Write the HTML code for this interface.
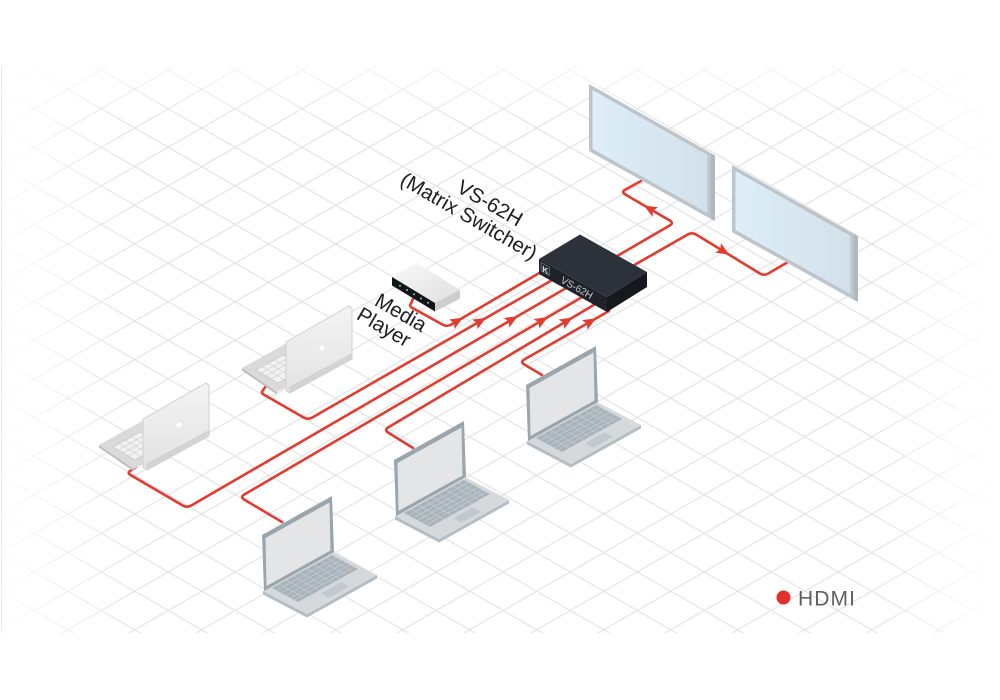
<!DOCTYPE html>
<html>
<head>
<meta charset="utf-8">
<style>
  html,body{margin:0;padding:0;background:#fff;}
  svg{display:block;}
  .lbl{font-family:"Liberation Sans",sans-serif;fill:#1e1e1e;font-size:20.5px;}
</style>
</head>
<body>
<svg width="1000" height="700" viewBox="0 0 1000 700" xmlns="http://www.w3.org/2000/svg">
  <defs>
    <pattern id="grid" patternUnits="userSpaceOnUse" x="0.7" y="12.2" width="67" height="38.6">
      <path d="M0,0L67,38.6M0,-38.6L67,0M0,38.6L67,77.2M0,38.6L67,0M0,0L67,-38.6M0,77.2L67,38.6" stroke="#dfdfdf" stroke-width="1" fill="none"/>
    </pattern>
    <linearGradient id="gh" gradientUnits="userSpaceOnUse" x1="0" y1="0" x2="1000" y2="0">
      <stop offset="0" stop-color="#1a1a1a"/>
      <stop offset="0.13" stop-color="#ffffff"/>
      <stop offset="0.88" stop-color="#ffffff"/>
      <stop offset="1" stop-color="#000000"/>
    </linearGradient>
    <linearGradient id="gv" gradientUnits="userSpaceOnUse" x1="0" y1="66" x2="0" y2="633">
      <stop offset="0" stop-color="#555555"/>
      <stop offset="0.1" stop-color="#ffffff"/>
      <stop offset="1" stop-color="#f0f0f0"/>
    </linearGradient>
    <mask id="mh" maskUnits="userSpaceOnUse" x="0" y="0" width="1000" height="700">
      <rect x="0" y="0" width="1000" height="700" fill="url(#gh)"/>
    </mask>
    <mask id="mv" maskUnits="userSpaceOnUse" x="0" y="0" width="1000" height="700">
      <rect x="0" y="0" width="1000" height="700" fill="url(#gv)"/>
    </mask>
    <linearGradient id="scr" x1="0" y1="0" x2="1" y2="0">
      <stop offset="0" stop-color="#ddeef9"/>
      <stop offset="1" stop-color="#d2e0ea"/>
    </linearGradient>
    <linearGradient id="lidg" x1="0" y1="0" x2="0" y2="1">
      <stop offset="0" stop-color="#f3f3f3"/>
      <stop offset="1" stop-color="#e3e3e3"/>
    </linearGradient>
    <linearGradient id="mpTop" x1="0" y1="0" x2="1" y2="1">
      <stop offset="0" stop-color="#fafafa"/>
      <stop offset="1" stop-color="#dedede"/>
    </linearGradient>

    <!-- Monitor -->
    <g id="mon">
      <polygon points="711,153 715,155.5 715,221 711,219" fill="#b0b8bd"/>
      <polygon points="589,151 711,219 715,221 593,153.5" fill="#b3babf"/>
      <polygon points="589,84 711,153 711,219 589,151" fill="#bec5ca"/>
      <polygon points="592.5,90 707.5,155 707.5,213 592.5,149" fill="url(#scr)"/>
    </g>

    <!-- Gray laptop (front view) -->
    <g id="lapG">
      <polygon points="263,591 307,614 377,575 377,578.5 307,617.5 263,594.5" fill="#b5bdc3"/>
      <polygon points="263,591 333,552 377,575 307,614" fill="#d5d9dc"/>
      <polygon points="272,588 332,555 358,569 298,602" fill="#a9b3ba"/>
      <g stroke="#c9cfd3" stroke-width="0.7">
        <line x1="276.5" y1="590.5" x2="336.5" y2="557.5"/>
        <line x1="281" y1="593" x2="341" y2="560"/>
        <line x1="285.5" y1="595.5" x2="345.5" y2="562.5"/>
        <line x1="290" y1="598" x2="350" y2="565"/>
        <line x1="294" y1="600" x2="354" y2="567"/>
        <line x1="279" y1="584" x2="305" y2="598"/>
        <line x1="286" y1="580" x2="312" y2="594"/>
        <line x1="293" y1="576" x2="319" y2="590"/>
        <line x1="300" y1="572.5" x2="326" y2="586.5"/>
        <line x1="307" y1="569" x2="333" y2="583"/>
        <line x1="314" y1="565" x2="340" y2="579"/>
        <line x1="321" y1="561" x2="347" y2="575"/>
        <line x1="327" y1="558" x2="353" y2="572"/>
      </g>
      <polygon points="321,593.3 341,582.1 349,586.7 329,597.9" fill="#c2c9ce"/>
      <polygon points="262,535 332,496 334,552 264,591" fill="#9aa5ad"/>
      <polygon points="265.5,538 329.5,502.5 330.5,550.5 266.5,586" fill="#e4e5e6"/>
    </g>

    <!-- Silver laptop (back view) -->
    <g id="lapS">
      <polygon points="242,368 277,392 277,394.5 242,370.5" fill="#bdbdbd"/>
      <polygon points="242,368 287,343 322,367 277,392" fill="#dadada"/>
      <polygon points="256,370 283,355 305,368 278,383" fill="#f1f1f1" stroke="#c4c4c4" stroke-width="0.7"/>
      <g stroke="#cdcdcd" stroke-width="0.6">
        <line x1="261" y1="373" x2="288" y2="358"/>
        <line x1="266" y1="376" x2="293" y2="361"/>
        <line x1="271" y1="379" x2="298" y2="364"/>
        <line x1="262" y1="366.5" x2="284" y2="379.5"/>
        <line x1="268" y1="363" x2="290" y2="376"/>
        <line x1="274" y1="359.5" x2="296" y2="372.5"/>
      </g>
      <polygon points="286,342 349,306 352,308.5 352,359 290,393 286,390.5" fill="url(#lidg)" stroke="#cfcfcf" stroke-width="1"/>
      <polygon points="288.5,387 352,353 352,359 290,393" fill="#d3d3d3"/>
      <circle cx="322" cy="348" r="2.6" fill="#ffffff"/>
    </g>
  </defs>

  <!-- Grid -->
  <g mask="url(#mh)">
    <g mask="url(#mv)">
      <rect x="0" y="66" width="1000" height="567" fill="url(#grid)"/>
    </g>
  </g>
  <line x1="1.5" y1="66" x2="1.5" y2="633" stroke="#e9e9e9" stroke-width="1"/>

  <!-- Cables -->
  <g fill="none" stroke="#e23b30" stroke-width="2.6" stroke-linecap="round" stroke-linejoin="round">
    <path d="M413,299 L410.9,303.7 Q409,306 411.6,307.5 L442.6,324.6 Q447,327 451.3,324.5 L541,272"/>
    <path d="M266,386 L262.7,390.6 Q261,393 263.6,394.5 L303.7,417.5 Q308,420 312.3,417.5 L554,279"/>
    <path d="M136,467 L130.3,470.8 Q127,473 130.5,475 L182.7,505.5 Q187,508 191.3,505.5 L568,287"/>
    <path d="M282,522 L244.3,499.6 Q240,497 244.3,494.5 L584,296"/>
    <path d="M413,448 L388.3,432.6 Q384,430 388.3,427.4 L597,303"/>
    <path d="M542,375 L524.3,364.5 Q520,362 524.3,359.5 L609,311"/>
    <path d="M600,266 L669.7,225.5 Q674,223 669.7,220.5 L625.3,194.5 Q621,192 625.4,189.6 L641,181"/>
    <path d="M610,279 L687.7,234.5 Q692,232 696.3,234.6 L759.7,273.4 Q764,276 768.3,273.5 L788,262"/>
  </g>

  <!-- Arrows -->
  <g fill="#e23b30">
    <path transform="translate(457,321.2) rotate(-30.3)" d="M7,0 L-6,-5.5 L-3.5,0 L-6,5.5Z"/>
    <path transform="translate(480,321.4) rotate(-29.8)" d="M7,0 L-6,-5.5 L-3.5,0 L-6,5.5Z"/>
    <path transform="translate(511.7,319.7) rotate(-30.1)" d="M7,0 L-6,-5.5 L-3.5,0 L-6,5.5Z"/>
    <path transform="translate(541.7,320.7) rotate(-30.3)" d="M7,0 L-6,-5.5 L-3.5,0 L-6,5.5Z"/>
    <path transform="translate(566.7,321.1) rotate(-30.8)" d="M7,0 L-6,-5.5 L-3.5,0 L-6,5.5Z"/>
    <path transform="translate(590,321.9) rotate(-29.8)" d="M7,0 L-6,-5.5 L-3.5,0 L-6,5.5Z"/>
    <path transform="translate(650,209) rotate(210.3)" d="M7,0 L-6,-5.5 L-3.5,0 L-6,5.5Z"/>
    <path transform="translate(723.3,251.1) rotate(31.4)" d="M7,0 L-6,-5.5 L-3.5,0 L-6,5.5Z"/>
  </g>

  <!-- Monitors -->
  <use href="#mon"/>
  <use href="#mon" transform="translate(143,81)"/>

  <!-- Switcher -->
  <polygon points="539,259 580,234.5 647,272 607,297" fill="#2d323a"/>
  <polygon points="539,259 607,297 607,312 539,274" fill="#1f2329"/>
  <polygon points="607,297 647,272 647,287 607,312" fill="#15181c"/>
  <polygon points="541,262.5 549.5,267 549.5,275.5 541,271" fill="#2a2e35" stroke="#8d939a" stroke-width="0.5"/>
  <text transform="translate(545.3,273) skewY(28)" font-family="Liberation Sans, sans-serif" font-size="8.5" font-weight="bold" fill="#d6d9dd" text-anchor="middle">K</text>
  <text transform="translate(577,287.5) rotate(29.2)" y="3.7" font-family="Liberation Sans, sans-serif" font-size="10" fill="#c5c9ce" text-anchor="middle">VS-62H</text>

  <!-- Media player -->
  <polygon points="392,277 417,263 460,290 435,303" fill="url(#mpTop)"/>
  <polygon points="392,277 435,303 435,311.5 392,285.5" fill="#131313"/>
  <polygon points="435,303 460,290 460,298.5 435,311.5" fill="#cdcdcd"/>
  <g fill="#4fd8e3">
    <circle cx="400" cy="285.8" r="1"/>
    <circle cx="407" cy="290" r="1"/>
    <circle cx="414" cy="294.3" r="1"/>
    <circle cx="421" cy="298.5" r="1"/>
    <circle cx="428" cy="302.7" r="1"/>
  </g>

  <!-- Laptops -->
  <use href="#lapS"/>
  <use href="#lapS" transform="translate(-143,77)"/>
  <use href="#lapG"/>
  <use href="#lapG" transform="translate(132,-75)"/>
  <use href="#lapG" transform="translate(264,-150)"/>

  <!-- Labels -->
  <text class="lbl" transform="translate(490,203) rotate(30)" y="7" text-anchor="middle">VS-62H</text>
  <text class="lbl" transform="translate(469,216) rotate(30)" y="7" text-anchor="middle">(Matrix Switcher)</text>
  <text class="lbl" transform="translate(401,312.5) rotate(30)" y="7" text-anchor="middle">Media</text>
  <text class="lbl" transform="translate(384,327) rotate(30)" y="7" text-anchor="middle">Player</text>

  <!-- Legend -->
  <circle cx="783.5" cy="597.5" r="7" fill="#e1312f"/>
  <text x="798" y="605.5" font-family="Liberation Sans, sans-serif" font-size="21" fill="#5f5f5f" textLength="57" lengthAdjust="spacing">HDMI</text>
</svg>
</body>
</html>
